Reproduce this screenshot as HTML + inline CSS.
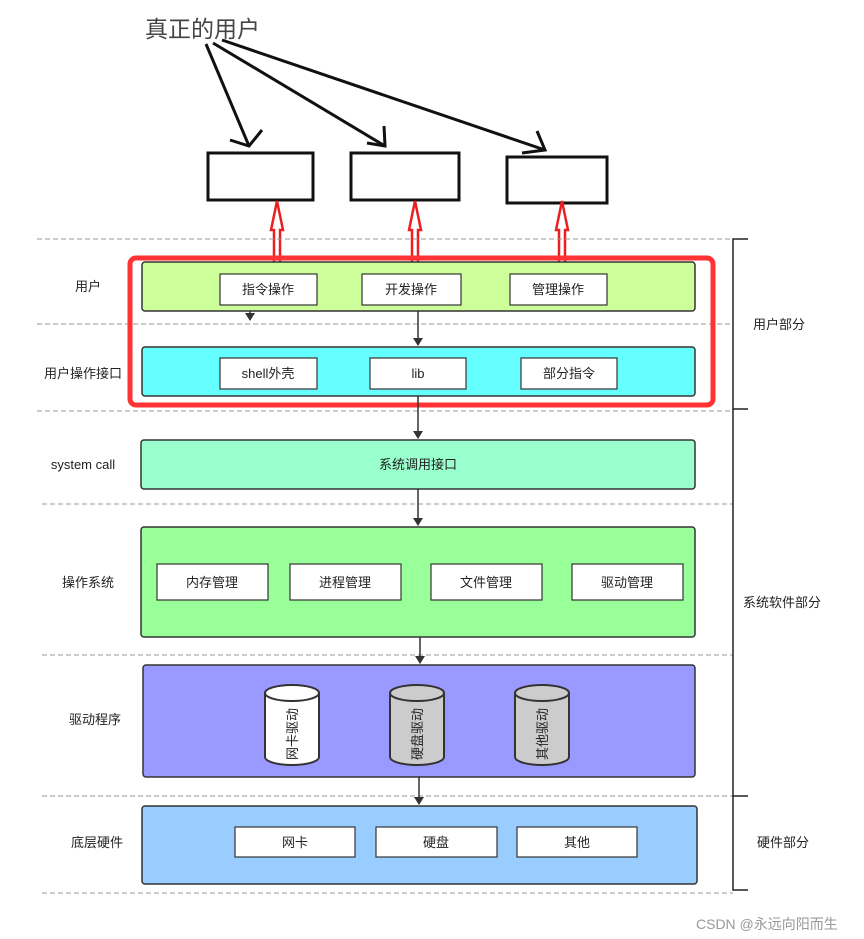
<!DOCTYPE html>
<html><head><meta charset="utf-8"><style>body{margin:0;background:#fff}svg{display:block}text{font-family:"Liberation Sans","Noto Sans CJK SC",sans-serif;font-size:13px;fill:#222}</style></head><body>
<svg width="864" height="939" viewBox="0 0 864 939" xmlns="http://www.w3.org/2000/svg">
<defs><marker id="a" markerWidth="8" markerHeight="10" refX="7" refY="5" orient="auto" markerUnits="userSpaceOnUse"><path d="M0,0 L8,5 L0,10 Z" fill="#333"/></marker></defs>
<text x="145" y="37" style="font-size:23px;fill:#444">真正的用户</text>
<g stroke="#111" stroke-width="3" fill="none">
<line x1="206" y1="44" x2="249" y2="146"/><polyline points="230,140 249,146 262,130"/>
<line x1="213" y1="43" x2="385" y2="146"/><polyline points="367,143 385,146 384,126"/>
<line x1="222" y1="40" x2="545" y2="150"/><polyline points="522,153 545,150 537,131"/>
<rect x="208" y="153" width="105" height="47"/><rect x="351" y="153" width="108" height="47"/><rect x="507" y="157" width="100" height="46"/>
</g>
<g stroke="#e82020" stroke-width="2.5" fill="none">
<path d="M274,268 V230 H271 L277,201 L283,230 H280 V268 Z"/>
<path d="M412,268 V230 H409 L415,201 L421,230 H418 V268 Z"/>
<path d="M559,268 V230 H556 L562,201 L568,230 H565 V268 Z"/>
</g>
<g stroke="#999" stroke-dasharray="5,3" stroke-width="1">
<line x1="37" y1="239" x2="733" y2="239"/><line x1="37" y1="324" x2="733" y2="324"/><line x1="37" y1="411" x2="733" y2="411"/><line x1="42" y1="504" x2="733" y2="504"/><line x1="42" y1="655" x2="733" y2="655"/><line x1="42" y1="796" x2="733" y2="796"/><line x1="42" y1="893" x2="733" y2="893"/>
</g>
<g stroke="#222" stroke-width="1.5" fill="none">
<polyline points="748,239 733,239 733,409 748,409"/><polyline points="733,409 733,796 748,796"/><polyline points="733,796 733,890 748,890"/>
</g>
<rect x="130" y="258" width="583" height="147" rx="6" fill="none" stroke="#f33" stroke-width="5"/>
<g stroke="#333" stroke-width="1.5">
<rect x="142" y="262" width="553" height="49" rx="3" fill="#ccff99"/>
<rect x="142" y="347" width="553" height="49" rx="3" fill="#66ffff"/>
<rect x="141" y="440" width="554" height="49" rx="3" fill="#99ffcc"/>
<rect x="141" y="527" width="554" height="110" rx="3" fill="#99ff99"/>
<rect x="143" y="665" width="552" height="112" rx="3" fill="#9999ff"/>
<rect x="142" y="806" width="555" height="78" rx="3" fill="#99ccff"/>
</g>
<g stroke="#333" stroke-width="1.2" fill="#fff">
<rect x="220" y="274" width="97" height="31"/><rect x="362" y="274" width="99" height="31"/><rect x="510" y="274" width="97" height="31"/>
<rect x="220" y="358" width="97" height="31"/><rect x="370" y="358" width="96" height="31"/><rect x="521" y="358" width="96" height="31"/>
<rect x="157" y="564" width="111" height="36"/><rect x="290" y="564" width="111" height="36"/><rect x="431" y="564" width="111" height="36"/><rect x="572" y="564" width="111" height="36"/>
<rect x="235" y="827" width="120" height="30"/><rect x="376" y="827" width="121" height="30"/><rect x="517" y="827" width="120" height="30"/>
</g>
<g stroke="#333" stroke-width="1.5">
<line x1="418" y1="311" x2="418" y2="345" marker-end="url(#a)"/>
<line x1="418" y1="396" x2="418" y2="438" marker-end="url(#a)"/>
<line x1="418" y1="489" x2="418" y2="525" marker-end="url(#a)"/>
<line x1="420" y1="637" x2="420" y2="663" marker-end="url(#a)"/>
<line x1="419" y1="777" x2="419" y2="804" marker-end="url(#a)"/>
<line x1="250" y1="311" x2="250" y2="320" marker-end="url(#a)"/>
</g>
<g stroke="#333" stroke-width="2">
<path d="M265,693 V757 A27,8 0 0 0 319,757 V693" fill="#fff"/><ellipse cx="292" cy="693" rx="27" ry="8" fill="#fff"/>
<path d="M390,693 V757 A27,8 0 0 0 444,757 V693" fill="#ccc"/><ellipse cx="417" cy="693" rx="27" ry="8" fill="#ccc"/>
<path d="M515,693 V757 A27,8 0 0 0 569,757 V693" fill="#ccc"/><ellipse cx="542" cy="693" rx="27" ry="8" fill="#ccc"/>
</g>
<g text-anchor="middle">
<text transform="translate(297,734) rotate(-90)">网卡驱动</text>
<text transform="translate(422,734) rotate(-90)">硬盘驱动</text>
<text transform="translate(547,734) rotate(-90)">其他驱动</text>
<text x="268" y="294">指令操作</text><text x="411" y="294">开发操作</text><text x="558" y="294">管理操作</text>
<text x="268" y="378">shell外壳</text><text x="418" y="378">lib</text><text x="569" y="378">部分指令</text>
<text x="418" y="469">系统调用接口</text>
<text x="212" y="587">内存管理</text><text x="345" y="587">进程管理</text><text x="486" y="587">文件管理</text><text x="627" y="587">驱动管理</text>
<text x="295" y="847">网卡</text><text x="436" y="847">硬盘</text><text x="577" y="847">其他</text>
<text x="88" y="291">用户</text><text x="83" y="378">用户操作接口</text><text x="83" y="469">system call</text><text x="88" y="587">操作系统</text><text x="95" y="724">驱动程序</text><text x="97" y="847">底层硬件</text>
<text x="779" y="329">用户部分</text><text x="782" y="607">系统软件部分</text><text x="783" y="847">硬件部分</text>
</g>
<text x="696" y="929" style="font-size:14px;fill:#999">CSDN @永远向阳而生</text>
</svg>
</body></html>
